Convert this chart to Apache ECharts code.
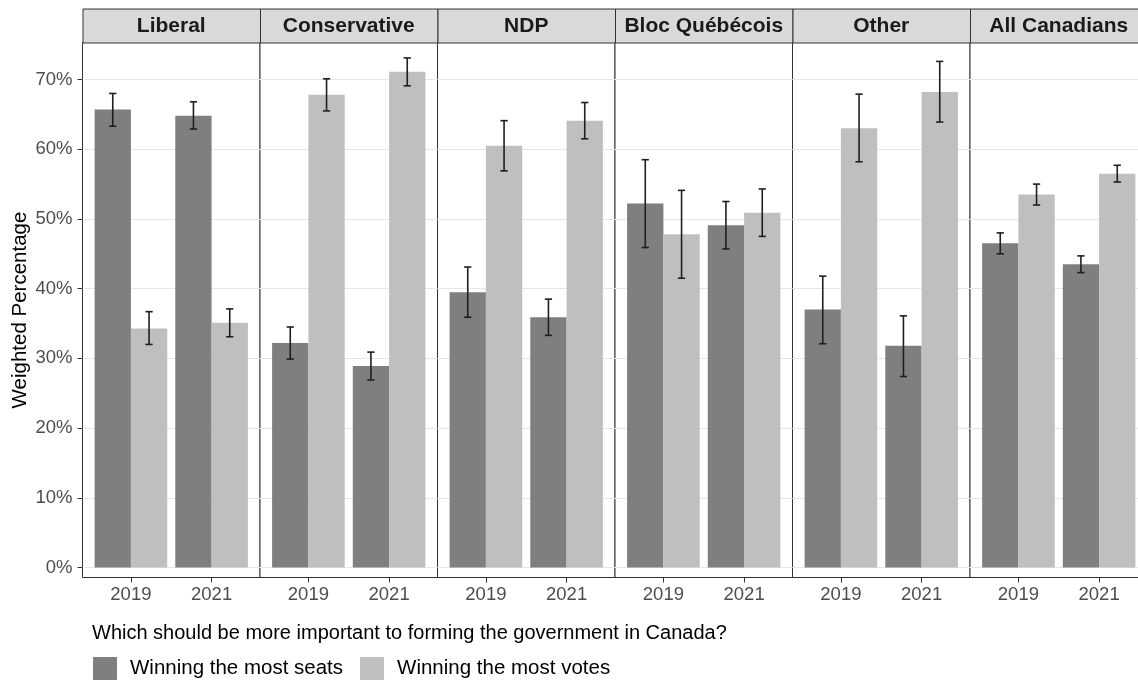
<!DOCTYPE html>
<html>
<head>
<meta charset="utf-8">
<title>Seats vs votes</title>
<script src="https://cdn.jsdelivr.net/npm/echarts@6/dist/echarts.min.js"></script>
<style>
  html, body { margin: 0; padding: 0; background: #ffffff; overflow: hidden; }
  #chart { width: 1150px; height: 684px; }
</style>
</head>
<body>
<div id="chart"></div>
<script>
// ---- data -------------------------------------------------------------
const parties = ['Liberal', 'Conservative', 'NDP', 'Bloc Québécois', 'Other', 'All Canadians'];
const years = ['2019', '2021'];
const seriesNames = ['Winning the most seats', 'Winning the most votes'];

// weighted percentage per party, [2019, 2021]
const seatsPct  = [[65.7, 64.8], [32.2, 28.9], [39.5, 35.9], [52.2, 49.1], [37.0, 31.8], [46.5, 43.5]];
const seatsLow  = [[63.3, 62.9], [29.9, 26.9], [35.9, 33.3], [45.9, 45.7], [32.1, 27.4], [45.0, 42.3]];
const seatsHigh = [[68.0, 66.8], [34.5, 30.9], [43.1, 38.5], [58.5, 52.5], [41.8, 36.1], [48.0, 44.7]];

const votesPct  = [[34.3, 35.1], [67.8, 71.1], [60.5, 64.1], [47.8, 50.9], [63.0, 68.2], [53.5, 56.5]];
const votesLow  = [[32.0, 33.1], [65.5, 69.1], [56.9, 61.5], [41.5, 47.5], [58.2, 63.9], [52.0, 55.3]];
const votesHigh = [[36.7, 37.1], [70.1, 73.1], [64.1, 66.7], [54.1, 54.3], [67.9, 72.6], [55.0, 57.7]];

const yTicks = [0, 10, 20, 30, 40, 50, 60, 70];

// ---- layout -----------------------------------------------------------
const FONT = '"Liberation Sans", Arial, Helvetica, sans-serif';
const PANEL_LEFT = 82.5, PANEL_W = 177.5, PANEL_TOP = 42.5, PANEL_H = 535;
const STRIP_TOP = 8.5, STRIP_H = 34;
const Y_MIN = -1.43, Y_MAX = 75.31;
const COLORS = ['#7f7f7f', '#bfbfbf'];
const BORDER = '#333333';

// bar slots within a year (dodge width 0.9)
const slots = [[-0.45, 0], [0, 0.45]];
const CAP = 0.045;

function makeRender(slotIdx, color) {
  return function (params, api) {
    const x = api.value(0), v = api.value(1), lo = api.value(2), hi = api.value(3);
    const a = x + slots[slotIdx][0], b = x + slots[slotIdx][1];
    const pTop = api.coord([a, v]);
    const pBase = api.coord([b, 0]);
    const c = (a + b) / 2;
    const eLo = api.coord([c, lo]), eHi = api.coord([c, hi]);
    const cL = api.coord([c - CAP, lo])[0], cR = api.coord([c + CAP, lo])[0];
    const errStyle = { stroke: '#1f1f1f', lineWidth: 1.6 };
    return {
      type: 'group',
      children: [
        { type: 'rect',
          shape: { x: pTop[0], y: pTop[1], width: pBase[0] - pTop[0], height: pBase[1] - pTop[1] },
          style: { fill: color } },
        { type: 'line', shape: { x1: eLo[0], y1: eLo[1], x2: eHi[0], y2: eHi[1] }, style: errStyle },
        { type: 'line', shape: { x1: cL, y1: eLo[1], x2: cR, y2: eLo[1] }, style: errStyle },
        { type: 'line', shape: { x1: cL, y1: eHi[1], x2: cR, y2: eHi[1] }, style: errStyle }
      ]
    };
  };
}

const grids = [], xAxes = [], yAxes = [], series = [], graphics = [];

parties.forEach(function (party, i) {
  const left = PANEL_LEFT + i * PANEL_W;
  grids.push({
    left: left, top: PANEL_TOP, width: PANEL_W, height: PANEL_H,
    show: true, borderColor: BORDER, borderWidth: 1, backgroundColor: '#ffffff',
    containLabel: false
  });
  xAxes.push({
    type: 'value', gridIndex: i, min: -0.6, max: 1.6, position: 'bottom',
    axisLine: { show: false, onZero: false },
    splitLine: { show: false },
    axisTick: { show: true, customValues: [0, 1], length: 5, lineStyle: { color: BORDER, width: 1 } },
    axisLabel: {
      show: true, customValues: [0, 1], margin: 8,
      formatter: function (v) { return years[Math.round(v)]; },
      color: '#4d4d4d', fontSize: 18.5, fontFamily: FONT
    }
  });
  yAxes.push({
    type: 'value', gridIndex: i, min: Y_MIN, max: Y_MAX, position: 'left',
    axisLine: { show: false, onZero: false },
    axisTick: { show: i === 0, customValues: yTicks, length: 5, lineStyle: { color: BORDER, width: 1 } },
    axisLabel: {
      show: i === 0, customValues: yTicks, margin: 10,
      formatter: function (v) { return Math.round(v) + '%'; },
      color: '#4d4d4d', fontSize: 18.5, fontFamily: FONT
    },
    splitLine: { show: true, lineStyle: { color: '#e6e6e6', width: 1.1 } }
  });

  const seatsData = years.map(function (y, k) { return [k, seatsPct[i][k], seatsLow[i][k], seatsHigh[i][k]]; });
  const votesData = years.map(function (y, k) { return [k, votesPct[i][k], votesLow[i][k], votesHigh[i][k]]; });

  series.push({
    type: 'custom', name: seriesNames[0], xAxisIndex: i, yAxisIndex: i,
    itemStyle: { color: COLORS[0] },
    encode: { x: 0, y: 1 },
    renderItem: makeRender(0, COLORS[0]), data: seatsData, z: 3
  });
  series.push({
    type: 'custom', name: seriesNames[1], xAxisIndex: i, yAxisIndex: i,
    itemStyle: { color: COLORS[1] },
    encode: { x: 0, y: 1 },
    renderItem: makeRender(1, COLORS[1]), data: votesData, z: 3
  });

  // facet strip
  graphics.push({
    type: 'rect', left: left, top: STRIP_TOP, z: 10,
    shape: { x: 0, y: 0, width: PANEL_W, height: STRIP_H },
    style: { fill: '#d9d9d9', stroke: BORDER, lineWidth: 1 }
  });
  graphics.push({
    type: 'text', z: 11,
    x: left + PANEL_W / 2, y: STRIP_TOP + STRIP_H / 2 + 1,
    style: {
      text: party, fill: '#1a1a1a', font: 'bold 21px ' + FONT,
      align: 'center', verticalAlign: 'middle', textAlign: 'center', textVerticalAlign: 'middle'
    }
  });
});

// y-axis title
graphics.push({
  type: 'text', z: 11, x: 20, y: 310, rotation: Math.PI / 2,
  style: {
    text: 'Weighted Percentage', fill: '#000000', font: '20.5px ' + FONT,
    align: 'center', verticalAlign: 'middle', textAlign: 'center', textVerticalAlign: 'middle'
  }
});

// legend title
graphics.push({
  type: 'text', z: 11, x: 92, y: 633,
  style: {
    text: 'Which should be more important to forming the government in Canada?',
    fill: '#000000', font: '20px ' + FONT,
    align: 'left', verticalAlign: 'middle', textAlign: 'left', textVerticalAlign: 'middle'
  }
});

const chart = echarts.init(document.getElementById('chart'), null, { renderer: 'canvas' });
chart.setOption({
  animation: false,
  backgroundColor: '#ffffff',
  grid: grids,
  xAxis: xAxes,
  yAxis: yAxes,
  series: series,
  graphic: graphics,
  legend: {
    left: 88, top: 652,
    orient: 'horizontal',
    icon: 'rect',
    itemWidth: 24, itemHeight: 23, itemGap: 17,
    data: [
      { name: seriesNames[0], itemStyle: { color: COLORS[0] } },
      { name: seriesNames[1], itemStyle: { color: COLORS[1] } }
    ],
    textStyle: { color: '#000000', fontSize: 20.5, fontFamily: FONT, padding: [0, 0, 0, 8] },
    selectedMode: false
  }
});
</script>
</body>
</html>
